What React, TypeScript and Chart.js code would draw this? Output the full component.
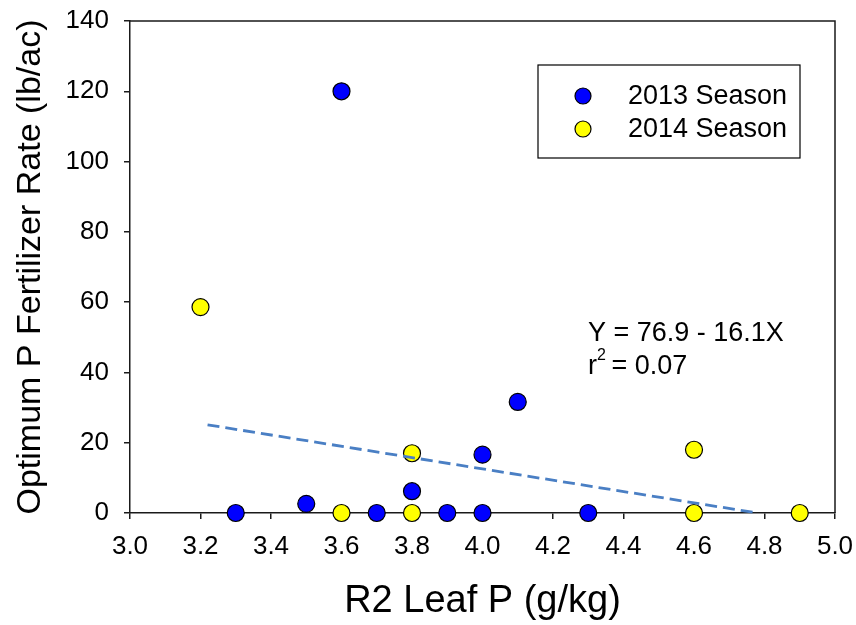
import React, { useEffect, useRef } from "react";
import { Chart, registerables } from "chart.js";

Chart.register(...registerables);

// ---- data ----
const leafP2013 = [3.3, 3.5, 3.6, 3.7, 3.8, 3.9, 4.0, 4.0, 4.1, 4.3];
const rate2013 = [0, 2.6, 120, 0, 6.2, 0, 0, 16.6, 31.6, 0];
const leafP2014 = [3.2, 3.6, 3.8, 3.8, 4.6, 4.6, 4.9];
const rate2014 = [58.6, 0, 0, 17, 18, 0, 0];
const regLeafP = [3.22, 4.78];
const regRate = [25.1, 0];
const xTickValues = [3.0, 3.2, 3.4, 3.6, 3.8, 4.0, 4.2, 4.4, 4.6, 4.8, 5.0];
const yTickValues = [0, 20, 40, 60, 80, 100, 120, 140];
const seriesNames = ["2013 Season", "2014 Season"];
const equationText = "Y = 76.9 - 16.1X";
const r2Text = "= 0.07";

const FONT = "'Liberation Sans', Arial, Helvetica, sans-serif";
const AXIS_COLOR = "#1a1a1a";
const BLUE = "#0000ff";
const YELLOW = "#ffff00";

const pts = (xs: number[], ys: number[]) => xs.map((x, i) => ({ x, y: ys[i] }));

const overlayPlugin = {
  id: "overlay",
  afterDraw(chart: any) {
    const { ctx, chartArea } = chart;
    const { left, top, right, bottom } = chartArea;
    ctx.save();
    // frame: top and right lines
    ctx.strokeStyle = AXIS_COLOR;
    ctx.lineWidth = 1.5;
    ctx.beginPath();
    ctx.moveTo(left, top);
    ctx.lineTo(right, top);
    ctx.lineTo(right, bottom);
    ctx.stroke();

    // legend box
    const bx = left + 408;
    const by = top + 44;
    ctx.lineWidth = 1.2;
    ctx.strokeStyle = "#000";
    ctx.strokeRect(bx, by, 262, 93);
    const colors = [BLUE, YELLOW];
    ctx.font = `27px ${FONT}`;
    ctx.textBaseline = "middle";
    ctx.textAlign = "left";
    for (let i = 0; i < 2; i++) {
      const cy = by + 31 + i * 33;
      ctx.beginPath();
      ctx.arc(bx + 45, cy, 8, 0, Math.PI * 2);
      ctx.fillStyle = colors[i];
      ctx.fill();
      ctx.lineWidth = 1.2;
      ctx.strokeStyle = "#000";
      ctx.stroke();
      ctx.fillStyle = "#000";
      ctx.fillText(seriesNames[i], bx + 90, cy + 1);
    }

    // regression annotation
    const ax = left + 458;
    ctx.font = `27px ${FONT}`;
    ctx.fillText(equationText, ax, top + 313);
    ctx.fillText("r", ax, top + 346);
    const rw = ctx.measureText("r").width;
    ctx.font = `16px ${FONT}`;
    ctx.fillText("2", ax + rw, top + 335);
    const sw = ctx.measureText("2").width;
    ctx.font = `27px ${FONT}`;
    ctx.fillText(" " + r2Text, ax + rw + sw - 2, top + 346);
    ctx.restore();
  },
};

export default function App() {
  const ref = useRef<HTMLCanvasElement | null>(null);
  useEffect(() => {
    if (!ref.current) return;
    const chart = new Chart(ref.current, {
      type: "scatter",
      data: {
        datasets: [
          {
            type: "line",
            label: "fit",
            data: pts(regLeafP, regRate),
            borderColor: "#4a7fc4",
            borderWidth: 2.8,
            borderDash: [12, 6],
            pointRadius: 0,
            fill: false,
            order: 0,
            clip: false as any,
          } as any,
          {
            label: seriesNames[0],
            data: pts(leafP2013, rate2013),
            backgroundColor: BLUE,
            borderColor: "#000",
            borderWidth: 1.2,
            pointRadius: 8.5,
            order: 1,
            clip: false as any,
          },
          {
            label: seriesNames[1],
            data: pts(leafP2014, rate2014),
            backgroundColor: YELLOW,
            borderColor: "#000",
            borderWidth: 1.2,
            pointRadius: 8.5,
            order: 2,
            clip: false as any,
          },
        ],
      },
      options: {
        responsive: false,
        animation: false,
        events: [],
        layout: { padding: { top: 21, right: 21, left: 0, bottom: 0 } },
        plugins: { legend: { display: false }, tooltip: { enabled: false } },
        scales: {
          x: {
            type: "linear",
            min: 3.0,
            max: 5.0,
            afterBuildTicks: (s: any) => {
              s.ticks = xTickValues.map((v) => ({ value: v }));
            },
            afterFit: (s: any) => {
              s.height = 112;
              s.paddingLeft = 0;
              s.paddingRight = 0;
            },
            ticks: {
              color: "#000",
              font: { family: FONT, size: 26 },
              padding: 12,
              maxRotation: 0,
              autoSkip: false,
              callback: (v: any) => Number(v).toFixed(1),
            },
            grid: {
              drawOnChartArea: false,
              drawTicks: true,
              tickLength: 6,
              color: AXIS_COLOR,
              lineWidth: 1.5,
            },
            border: { display: true, color: AXIS_COLOR, width: 1.5 },
            title: {
              display: true,
              text: "R2 Leaf P (g/kg)",
              color: "#000",
              font: { family: FONT, size: 38 },
              padding: { top: 0, bottom: 1 },
            },
          },
          y: {
            type: "linear",
            min: 0,
            max: 140,
            afterBuildTicks: (s: any) => {
              s.ticks = yTickValues.map((v) => ({ value: v }));
            },
            afterFit: (s: any) => {
              s.width = 130;
              s.paddingTop = 0;
              s.paddingBottom = 0;
            },
            ticks: {
              color: "#000",
              font: { family: FONT, size: 26 },
              padding: 15,
              autoSkip: false,
            },
            grid: {
              drawOnChartArea: false,
              drawTicks: true,
              tickLength: 6,
              color: AXIS_COLOR,
              lineWidth: 1.5,
            },
            border: { display: true, color: AXIS_COLOR, width: 1.5 },
            title: {
              display: true,
              text: "Optimum P Fertilizer Rate (lb/ac)",
              color: "#000",
              font: { family: FONT, size: 34 },
              padding: { top: 10, bottom: 0 },
            },
          },
        },
      },
      plugins: [overlayPlugin],
    } as any);
    return () => chart.destroy();
  }, []);
  return (
    <div style={{ position: "absolute", left: 0, top: 0, width: 856, height: 625, background: "#fff" }}>
      <canvas ref={ref} width={856} height={625} />
    </div>
  );
}
